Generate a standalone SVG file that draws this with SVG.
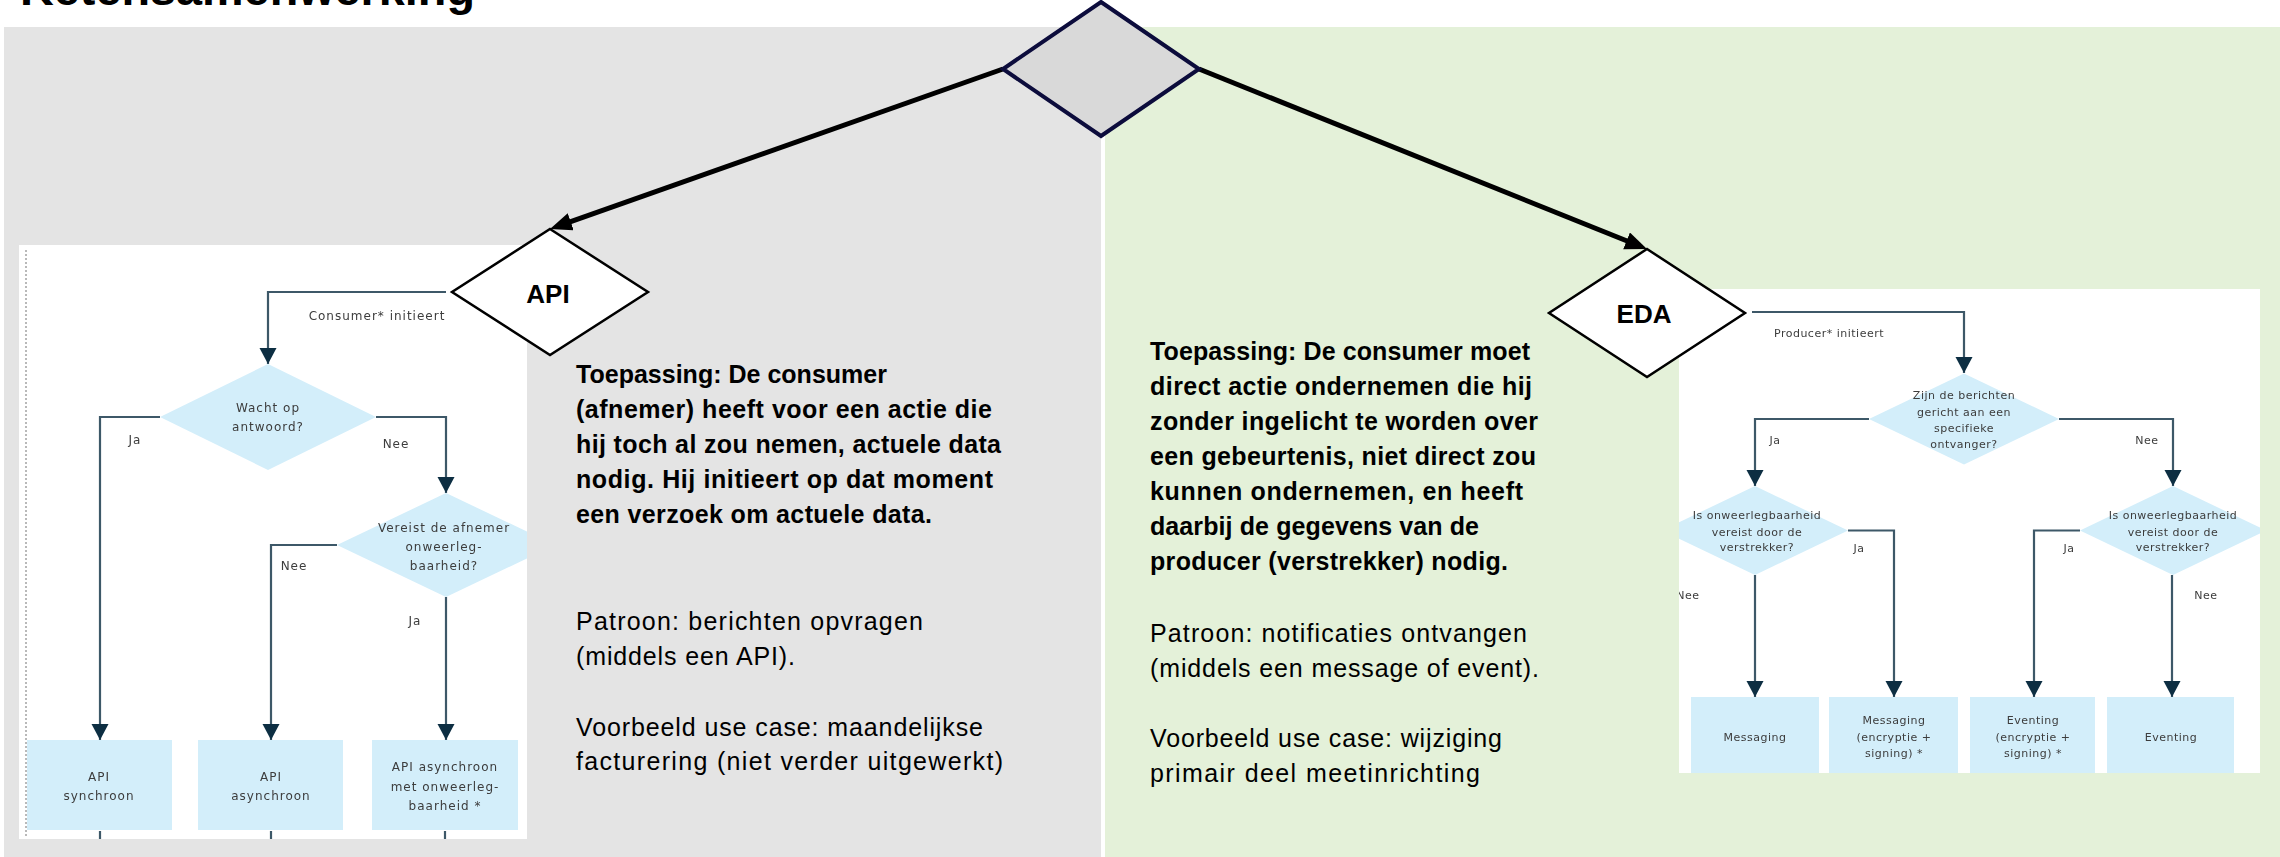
<svg xmlns="http://www.w3.org/2000/svg" width="2280" height="857" viewBox="0 0 2280 857">
  <defs>
    <style>
      .title { font-family: "Liberation Sans", Arial, sans-serif; font-weight: bold; font-size: 46px; fill: #000; }
      .big { font-family: "Liberation Sans", Arial, sans-serif; font-weight: bold; font-size: 26px; fill: #000; text-anchor: middle; }
      .tb { font-family: "Liberation Sans", Arial, sans-serif; font-weight: bold; font-size: 25px; fill: #000; }
      .tr { font-family: "Liberation Sans", Arial, sans-serif; font-size: 25px; fill: #000; }
      .fa { font-family: "DejaVu Sans", sans-serif; font-size: 12px; letter-spacing: 1px; fill: #3c3c3c; text-anchor: middle; }
      .fe { font-family: "DejaVu Sans", sans-serif; font-size: 11px; letter-spacing: 0.5px; fill: #3c3c3c; text-anchor: middle; }
      .fline { fill: none; stroke: #3d5868; stroke-width: 2.2; }
      .fdec { fill: #d3eefa; }
      .fbox { fill: #d3eefa; }
      .main { fill: none; stroke: #000; stroke-width: 5; }
      .choice { fill: #fff; stroke: #000; stroke-width: 2.5; stroke-linejoin: miter; }
    </style>
    <marker id="fcArrow" markerUnits="userSpaceOnUse" markerWidth="17" markerHeight="18" refX="16" refY="8.5" orient="auto">
      <path d="M0,0 L16,8.5 L0,17 Z" fill="#0b2e43"/>
    </marker>
    <marker id="bigArrow" markerUnits="userSpaceOnUse" markerWidth="24" markerHeight="20" refX="12" refY="9" orient="auto">
      <path d="M0,0 L22,9 L0,18 Z" fill="#000"/>
    </marker>
    <clipPath id="clipApi"><rect x="19" y="245" width="508" height="594"/></clipPath>
    <clipPath id="clipEda"><rect x="1679" y="289" width="581" height="484"/></clipPath>
    <filter id="soft" x="-2%" y="-2%" width="104%" height="104%">
      <feGaussianBlur stdDeviation="0.6"/>
    </filter>
  </defs>

  <!-- page background and the two columns -->
  <rect x="0" y="0" width="2280" height="857" fill="#fff"/>
  <text class="title" x="20" y="5" textLength="455" lengthAdjust="spacingAndGlyphs">Ketensamenwerking</text>
  <rect id="kolom-api" x="4" y="27" width="1097" height="830" fill="#e4e4e4"/>
  <rect id="kolom-eda" x="1105" y="27" width="1175" height="830" fill="#e4f1d9"/>

  <!-- API decision flow -->
  <g id="stroom-api" clip-path="url(#clipApi)" filter="url(#soft)">
    <rect x="19" y="245" width="508" height="594" fill="#fff"/>
    <line x1="26" y1="250" x2="26" y2="836" stroke="#b9b9b9" stroke-width="2" stroke-dasharray="2 2"/>
    <g id="api-beslissingen">
      <polygon class="fdec" points="268,364 376,417 268,470 160,417"/>
      <polygon class="fdec" points="446,493 555,545 446,597 337,545"/>
    </g>
    <g id="api-uitkomsten">
      <rect class="fbox" x="27" y="740" width="145" height="90"/>
      <rect class="fbox" x="198" y="740" width="145" height="90"/>
      <rect class="fbox" x="372" y="740" width="146" height="90"/>
    </g>
    <g id="api-lijnen">
      <path class="fline" d="M446,292 H268 V364" marker-end="url(#fcArrow)"/>
      <path class="fline" d="M160,417 H100 V740" marker-end="url(#fcArrow)"/>
      <path class="fline" d="M376,417 H446 V493" marker-end="url(#fcArrow)"/>
      <path class="fline" d="M337,545 H271 V740" marker-end="url(#fcArrow)"/>
      <path class="fline" d="M446,597 V740" marker-end="url(#fcArrow)"/>
      <path class="fline" d="M100,831 V840 M271,831 V840 M445,831 V840"/>
    </g>
    <g id="api-teksten">
      <text class="fa" x="377" y="320">Consumer* initieert</text>
      <text class="fa" x="268" y="412">Wacht op</text>
      <text class="fa" x="268" y="431">antwoord?</text>
      <text class="fa" x="135" y="444">Ja</text>
      <text class="fa" x="396" y="448">Nee</text>
      <text class="fa" x="444" y="532">Vereist de afnemer</text>
      <text class="fa" x="444" y="551">onweerleg-</text>
      <text class="fa" x="444" y="570">baarheid?</text>
      <text class="fa" x="294" y="570">Nee</text>
      <text class="fa" x="415" y="625">Ja</text>
      <text class="fa" x="99" y="781">API</text>
      <text class="fa" x="99" y="800">synchroon</text>
      <text class="fa" x="271" y="781">API</text>
      <text class="fa" x="271" y="800">asynchroon</text>
      <text class="fa" x="445" y="771">API asynchroon</text>
      <text class="fa" x="445" y="791">met onweerleg-</text>
      <text class="fa" x="445" y="810">baarheid *</text>
    </g>
  </g>

  <!-- EDA decision flow -->
  <g id="stroom-eda" clip-path="url(#clipEda)" filter="url(#soft)">
    <rect x="1679" y="289" width="581" height="484" fill="#fff"/>
    <g id="eda-beslissingen">
      <polygon class="fdec" points="1964,373.5 2059,419 1964,464.5 1869,419"/>
      <polygon class="fdec" points="1755,486 1848,530.5 1755,575 1662,530.5"/>
      <polygon class="fdec" points="2173,486 2266,530.5 2173,575 2080,530.5"/>
    </g>
    <g id="eda-uitkomsten">
      <rect class="fbox" x="1691" y="697" width="128" height="95"/>
      <rect class="fbox" x="1829" y="697" width="129" height="95"/>
      <rect class="fbox" x="1970" y="697" width="125" height="95"/>
      <rect class="fbox" x="2107" y="697" width="127" height="95"/>
    </g>
    <g id="eda-lijnen">
      <path class="fline" d="M1752,312 H1964 V373" marker-end="url(#fcArrow)"/>
      <path class="fline" d="M1869,419 H1755 V486" marker-end="url(#fcArrow)"/>
      <path class="fline" d="M2059,419 H2173 V486" marker-end="url(#fcArrow)"/>
      <path class="fline" d="M1755,575 V697" marker-end="url(#fcArrow)"/>
      <path class="fline" d="M1848,530.5 H1894 V697" marker-end="url(#fcArrow)"/>
      <path class="fline" d="M2080,530.5 H2034 V697" marker-end="url(#fcArrow)"/>
      <path class="fline" d="M2172,575 V697" marker-end="url(#fcArrow)"/>
    </g>
    <g id="eda-teksten">
      <text class="fe" x="1829" y="337">Producer* initieert</text>
      <text class="fe" x="1964" y="399">Zijn de berichten</text>
      <text class="fe" x="1964" y="416">gericht aan een</text>
      <text class="fe" x="1964" y="432">specifieke</text>
      <text class="fe" x="1964" y="448">ontvanger?</text>
      <text class="fe" x="1775" y="444">Ja</text>
      <text class="fe" x="2147" y="444">Nee</text>
      <text class="fe" x="1757" y="519">Is onweerlegbaarheid</text>
      <text class="fe" x="1757" y="536">vereist door de</text>
      <text class="fe" x="1757" y="551">verstrekker?</text>
      <text class="fe" x="2173" y="519">Is onweerlegbaarheid</text>
      <text class="fe" x="2173" y="536">vereist door de</text>
      <text class="fe" x="2173" y="551">verstrekker?</text>
      <text class="fe" x="1859" y="552">Ja</text>
      <text class="fe" x="2069" y="552">Ja</text>
      <text class="fe" x="1688" y="599">Nee</text>
      <text class="fe" x="2206" y="599">Nee</text>
      <text class="fe" x="1755" y="741">Messaging</text>
      <text class="fe" x="1894" y="724">Messaging</text>
      <text class="fe" x="1894" y="741">(encryptie +</text>
      <text class="fe" x="1894" y="757">signing) *</text>
      <text class="fe" x="2033" y="724">Eventing</text>
      <text class="fe" x="2033" y="741">(encryptie +</text>
      <text class="fe" x="2033" y="757">signing) *</text>
      <text class="fe" x="2171" y="741">Eventing</text>
    </g>
  </g>

  <!-- explanation for API -->
  <g id="tekst-api">
    <text class="tb" x="576" y="383" textLength="311">Toepassing: De consumer</text>
    <text class="tb" x="576" y="418" textLength="416">(afnemer) heeft voor een actie die</text>
    <text class="tb" x="576" y="453" textLength="425">hij toch al zou nemen, actuele data</text>
    <text class="tb" x="576" y="488" textLength="417">nodig. Hij initieert op dat moment</text>
    <text class="tb" x="576" y="523" textLength="356">een verzoek om actuele data.</text>
    <text class="tr" x="576" y="630" textLength="347">Patroon: berichten opvragen</text>
    <text class="tr" x="576" y="665" textLength="219">(middels een API).</text>
    <text class="tr" x="576" y="736" textLength="407">Voorbeeld use case: maandelijkse</text>
    <text class="tr" x="576" y="770" textLength="427">facturering (niet verder uitgewerkt)</text>
  </g>

  <!-- explanation for EDA -->
  <g id="tekst-eda">
    <text class="tb" x="1150" y="360" textLength="380">Toepassing: De consumer moet</text>
    <text class="tb" x="1150" y="395" textLength="382">direct actie ondernemen die hij</text>
    <text class="tb" x="1150" y="430" textLength="388">zonder ingelicht te worden over</text>
    <text class="tb" x="1150" y="465" textLength="386">een gebeurtenis, niet direct zou</text>
    <text class="tb" x="1150" y="500" textLength="373">kunnen ondernemen, en heeft</text>
    <text class="tb" x="1150" y="535" textLength="329">daarbij de gegevens van de</text>
    <text class="tb" x="1150" y="570" textLength="358">producer (verstrekker) nodig.</text>
    <text class="tr" x="1150" y="642" textLength="377">Patroon: notificaties ontvangen</text>
    <text class="tr" x="1150" y="677" textLength="389">(middels een message of event).</text>
    <text class="tr" x="1150" y="747" textLength="352">Voorbeeld use case: wijziging</text>
    <text class="tr" x="1150" y="782" textLength="330">primair deel meetinrichting</text>
  </g>

  <!-- arrows from the central choice to both styles -->
  <g id="verbindingen">
    <line class="main" x1="1003" y1="69" x2="559.4" y2="225.7" marker-end="url(#bigArrow)"/>
    <line class="main" x1="1199" y1="69" x2="1637.7" y2="245.3" marker-end="url(#bigArrow)"/>
  </g>

  <g id="node-keuze">
    <polygon points="1101,2 1199,69 1101,136 1003,69" fill="#d9d9d9" stroke="#0c0c3c" stroke-width="4"/>
  </g>
  <g id="node-api">
    <polygon class="choice" points="550,229 648,292 550,355 452,292"/>
    <text class="big" x="548" y="303">API</text>
  </g>
  <g id="node-eda">
    <polygon class="choice" points="1647,249 1745,313 1647,377 1549,313"/>
    <text class="big" x="1644" y="323">EDA</text>
  </g>
</svg>
